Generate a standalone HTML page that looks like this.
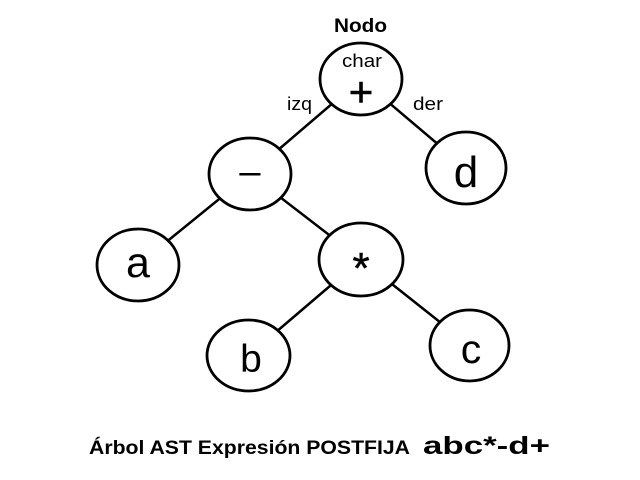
<!DOCTYPE html>
<html>
<head>
<meta charset="utf-8">
<style>
  html, body { margin: 0; padding: 0; background: #fff; }
  svg { display: block; }
  text { font-family: "Liberation Sans", Arial, sans-serif; fill: #000; }
</style>
</head>
<body>
<svg width="640" height="480" viewBox="0 0 640 480" xmlns="http://www.w3.org/2000/svg">
  <rect x="0" y="0" width="640" height="480" fill="#fff"/>
  <!-- connectors -->
  <g stroke="#000" stroke-width="2.5" fill="none">
    <line x1="361" y1="79" x2="250" y2="174"/>
    <line x1="361" y1="79" x2="466" y2="168"/>
    <line x1="250" y1="174" x2="138" y2="265"/>
    <line x1="250" y1="174" x2="361" y2="259.5"/>
    <line x1="361" y1="259.5" x2="248.5" y2="355.5"/>
    <line x1="361" y1="259.5" x2="469.5" y2="345.5"/>
  </g>
  <!-- nodes -->
  <g stroke="#000" stroke-width="2.8" fill="#fff">
    <ellipse cx="361" cy="79" rx="41" ry="36"/>
    <ellipse cx="466" cy="168" rx="40" ry="36"/>
    <ellipse cx="250" cy="174" rx="41" ry="36"/>
    <ellipse cx="138" cy="265" rx="41" ry="36"/>
    <ellipse cx="361" cy="259.5" rx="42" ry="36.5"/>
    <ellipse cx="248.5" cy="355.5" rx="41.5" ry="35.5"/>
    <ellipse cx="469.5" cy="345.5" rx="39.5" ry="35.5"/>
  </g>
  <!-- labels -->
  <text x="334" y="32" font-size="19" font-weight="bold" textLength="53" lengthAdjust="spacingAndGlyphs">Nodo</text>
  <text x="342" y="67" font-size="18" textLength="40" lengthAdjust="spacingAndGlyphs">char</text>
  <text x="361" y="106" font-size="42" text-anchor="middle" stroke="#000" stroke-width="0.6">+</text>
  <text x="287" y="110" font-size="18" textLength="25" lengthAdjust="spacingAndGlyphs">izq</text>
  <text x="413" y="110" font-size="18" textLength="30" lengthAdjust="spacingAndGlyphs">der</text>

  <text x="466" y="187" font-size="44" text-anchor="middle">d</text>
  <text x="138" y="277" font-size="43" text-anchor="middle">a</text>
  <text x="250" y="184" font-size="38" text-anchor="middle">–</text>
  <text x="361" y="283" font-size="44" text-anchor="middle" stroke="#000" stroke-width="0.5">*</text>
  <text x="251" y="372" font-size="39" text-anchor="middle">b</text>
  <text x="471" y="363" font-size="41" text-anchor="middle">c</text>

  <text x="89" y="454" font-size="19" font-weight="bold" textLength="321" lengthAdjust="spacingAndGlyphs">Árbol AST Expresión POSTFIJA</text>
  <text x="423" y="454" font-size="25" font-weight="bold" textLength="127" lengthAdjust="spacingAndGlyphs">abc*-d+</text>
</svg>
</body>
</html>
